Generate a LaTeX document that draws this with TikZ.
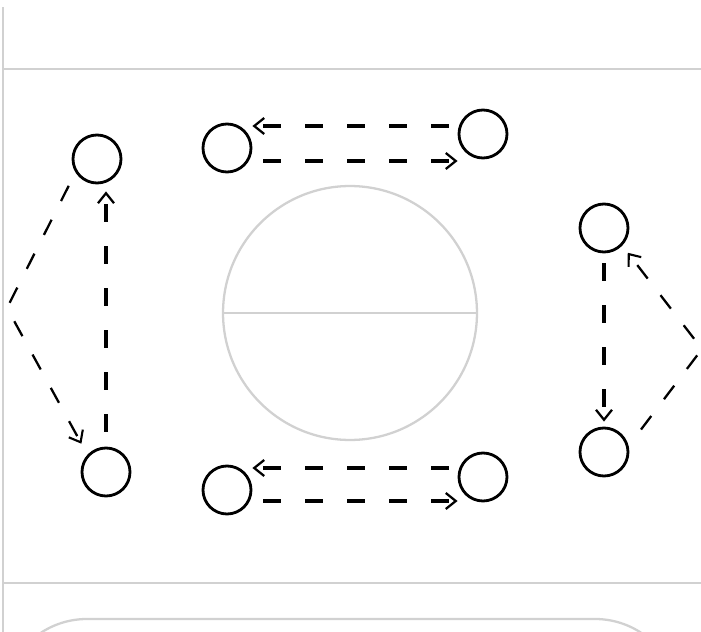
\documentclass[tikz,border=0pt]{standalone}
\usetikzlibrary{arrows.meta}

\begin{document}
\begin{tikzpicture}[
	x=0.02cm, y=-0.02cm,
	player/.style={ circle, draw, line width=1.6pt, inner sep=0pt, minimum size=0.96cm },
	court/.style={ draw=black!18, line width=1.3pt },
	pass/.style={ line width=2.1pt, dash pattern=on 0.36cm off 0.48cm, -{Straight Barb[length=2mm,width=3.2mm,line width=1.3pt]} },
	run/.style={ line width=1.3pt, dash pattern=on 0.34cm off 0.42cm, -{Straight Barb[length=2mm,width=3.2mm,line width=1.2pt]} }
]
\useasboundingbox (0,0) rectangle (701,632);
\clip (0,0) rectangle (701,632);

% court lines
\draw[court] (3,7) -- (3,640);
\draw[court] (3,69) -- (710,69);
\draw[court] (3,583) -- (710,583);
\draw[court, rounded corners=1.68cm] (3,720) -- (3,619) -- (679,619) -- (679,720);
\node at (350,313) (circ) [court, circle, inner sep=0pt, minimum size=5.08cm] {};
\draw[court] (circ.west) -- (circ.east);

% players
\node at (97,159) (lt) [player] {};
\node at (106,472) (lb) [player] {};
\node at (227,148) (tl) [player] {};
\node at (483,134) (tr) [player] {};
\node at (227,490) (bl) [player] {};
\node at (483,477) (br) [player] {};
\node at (604,228) (rt) [player] {};
\node at (604,452) (rb) [player] {};
\coordinate (lapex) at (7,308);
\coordinate (rapex) at (702,349);

% passes
\draw[pass, shorten <=0.18cm] (tr.west |- 0,126) -- (tl.east |- 0,126);
\draw[pass, shorten <=0.22cm] (tl.east |- 0,161) -- (tr.west |- 0,161);
\draw[pass, shorten <=0.18cm] (br.west |- 0,468) -- (bl.east |- 0,468);
\draw[pass, shorten <=0.22cm] (bl.east |- 0,501) -- (br.west |- 0,501);
\draw[pass, shorten <=0.3cm, shorten >=0.14cm] (lb.north) -- (lb.north |- lt.south);
\draw[pass, shorten <=0.2cm, shorten >=0.1cm] (rt.south) -- (rb.north);

% runs
\draw[run, shorten <=0.3cm, shorten >=0.25cm] (lt.212) -- (lapex) -- (lb.137);
\draw[run, shorten <=0.41cm, shorten >=0.18cm] (rb.14) -- (rapex) -- (rt.316);

\end{tikzpicture}
\end{document}
